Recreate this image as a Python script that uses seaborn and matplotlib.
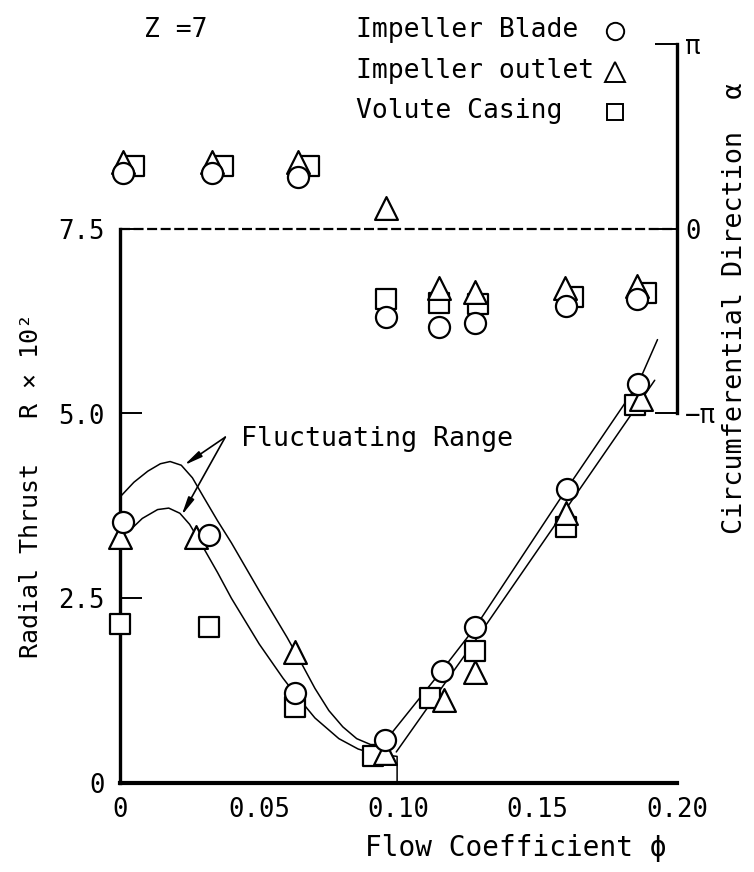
import numpy as np
import pandas as pd
import seaborn as sns
import matplotlib
matplotlib.use("Agg")
import matplotlib.pyplot as plt
from matplotlib.lines import Line2D

# ---------------- data ----------------
# Radial thrust R x 10^2
phi_blade = [0.001, 0.0318, 0.063, 0.0951, 0.1155, 0.1276, 0.1604, 0.186]
R_blade = [3.53, 3.35, 1.22, 0.58, 1.52, 2.11, 3.98, 5.40]
phi_outlet = [0.0, 0.0274, 0.0629, 0.0951, 0.1165, 0.1276, 0.1600, 0.187]
R_outlet = [3.33, 3.33, 1.77, 0.40, 1.12, 1.50, 3.65, 5.20]
phi_volute = [0.0, 0.0318, 0.0629, 0.0908, 0.1112, 0.1273, 0.1600, 0.185]
R_volute = [2.15, 2.11, 1.03, 0.37, 1.15, 1.79, 3.46, 5.12]

# Circumferential direction alpha (in units of pi)
phi_a_blade = [0.001, 0.033, 0.064, 0.0955, 0.1145, 0.1276, 0.160, 0.1855]
alpha_blade = [0.30, 0.30, 0.28, -0.48, -0.53, -0.51, -0.42, -0.38]
phi_a_outlet = [0.001, 0.033, 0.064, 0.0955, 0.1145, 0.1276, 0.1598, 0.1856]
alpha_outlet = [0.36, 0.36, 0.36, 0.11, -0.32, -0.34, -0.32, -0.31]
phi_a_volute = [0.005, 0.037, 0.068, 0.0955, 0.1145, 0.1285, 0.1627, 0.1888]
alpha_volute = [0.34, 0.34, 0.34, -0.38, -0.40, -0.41, -0.37, -0.35]

# Fluctuating range envelopes
phi_outer = [0.0, 0.005, 0.010, 0.0145, 0.018, 0.022, 0.026, 0.030, 0.035, 0.040,
             0.050, 0.060, 0.065, 0.070, 0.075, 0.080, 0.085, 0.090, 0.0935, 0.0955,
             0.1155, 0.1276, 0.1604, 0.186, 0.193]
R_outer = [3.87, 4.07, 4.22, 4.32, 4.35, 4.30, 4.13, 3.87, 3.55, 3.25,
           2.60, 1.97, 1.63, 1.28, 0.98, 0.76, 0.60, 0.52, 0.52, 0.58,
           1.52, 2.11, 3.98, 5.40, 6.00]
phi_inner = [0.003, 0.008, 0.0135, 0.0175, 0.0215, 0.025, 0.0294, 0.035, 0.040,
             0.050, 0.0585, 0.063, 0.070, 0.0786, 0.0855, 0.0907, 0.095, 0.0995, 0.0995]
R_inner = [3.40, 3.58, 3.70, 3.72, 3.65, 3.50, 3.22, 2.85, 2.50,
           1.88, 1.42, 1.20, 0.88, 0.60, 0.46, 0.40, 0.38, 0.36, 0.0]
phi_inner_r = [0.0992, 0.111, 0.1276, 0.160, 0.186, 0.192]
R_inner_r = [0.42, 1.05, 1.93, 3.70, 5.12, 5.45]

x_ticks = [0, 0.05, 0.10, 0.15, 0.20]
x_ticklabels = ["0", "0.05", "0.10", "0.15", "0.20"]
y_ticks = [0, 2.5, 5.0, 7.5]
y_ticklabels = ["0", "2.5", "5.0", "7.5"]
a_ticks = [-1, 0, 1]
a_ticklabels = ["\u2212\u03c0", "0", "\u03c0"]
legend_labels = ["Impeller Blade", "Impeller outlet", "Volute Casing"]
legend_markers = ["o", "^", "s"]

# ---------------- style ----------------
sns.set_theme(style="white")
plt.rcParams['font.family'] = ['DejaVu Sans Mono', 'DejaVu Sans']
plt.rcParams['mathtext.fontset'] = 'dejavusans'
plt.rcParams['text.color'] = 'black'
plt.rcParams['axes.labelcolor'] = 'black'
plt.rcParams['xtick.color'] = 'black'
plt.rcParams['ytick.color'] = 'black'
FS_TICK = 18.5

W, H = 754, 872
fig = plt.figure(figsize=(W / 100, H / 100), dpi=100)
ax = fig.add_axes([120 / W, 1 - 783 / H, 557 / W, (783 - 44) / H])
ax.set_xlim(0, 0.2)
ax.set_ylim(0, 10)
ax.patch.set_alpha(0)

line_kw = dict(color="black", linewidth=1.1, sort=False, estimator=None, legend=False, ax=ax)
sns.lineplot(x=phi_outer, y=R_outer, **line_kw)
sns.lineplot(x=phi_inner, y=R_inner, **line_kw)
sns.lineplot(x=phi_inner_r, y=R_inner_r, **line_kw)

ax.axhline(7.5, color="black", lw=1.6, ls=(0, (4.5, 1.6)), zorder=1)

mk = dict(facecolor="white", edgecolor="black", linewidth=1.6, clip_on=False, legend=False)
S_sq, S_tri, S_circ = 190, 270, 230
sns.scatterplot(x=phi_volute, y=R_volute, marker="s", s=S_sq, zorder=3, ax=ax, **mk)
sns.scatterplot(x=phi_outlet, y=R_outlet, marker="^", s=S_tri, zorder=4, ax=ax, **mk)
sns.scatterplot(x=phi_blade, y=R_blade, marker="o", s=S_circ, zorder=5, ax=ax, **mk)

# angle axis
ax2 = ax.twinx()
ax2.set_ylim(-3, 1)
sns.scatterplot(x=phi_a_volute, y=alpha_volute, marker="s", s=S_sq, zorder=3, ax=ax2, **mk)
sns.scatterplot(x=phi_a_outlet, y=alpha_outlet, marker="^", s=S_tri, zorder=4, ax=ax2, **mk)
sns.scatterplot(x=phi_a_blade, y=alpha_blade, marker="o", s=S_circ, zorder=5, ax=ax2, **mk)

# spines
for a in (ax, ax2):
    for s in a.spines.values():
        s.set_visible(False)
        s.set_color("black")
ax.spines["left"].set_visible(True)
ax.spines["left"].set_bounds(0, 7.5)
ax.spines["left"].set_linewidth(2.4)
ax.spines["bottom"].set_visible(True)
ax.spines["bottom"].set_linewidth(3.0)
ax2.spines["right"].set_visible(True)
ax2.spines["right"].set_bounds(-1, 1)
ax2.spines["right"].set_linewidth(2.4)

ax.set_xticks(x_ticks)
ax.set_xticklabels(x_ticklabels)
ax.set_yticks(y_ticks)
ax.set_yticklabels(y_ticklabels)
ax.tick_params(axis="x", direction="in", length=18, width=1.4, labelsize=FS_TICK, pad=10,
               colors="black")
ax.tick_params(axis="y", direction="in", length=16, width=1.4, labelsize=FS_TICK, pad=11,
               colors="black")
ax.set_xlabel("")
ax.set_ylabel("")
ax2.set_yticks(a_ticks)
ax2.set_yticklabels(a_ticklabels)
ax2.tick_params(axis="y", direction="in", length=16, width=1.4, labelsize=FS_TICK, pad=6,
                colors="black")
ax2.set_ylabel("")

# axis titles
fig.text(516 / W, 1 - 848 / H, "Flow Coefficient \u03d5", ha="center", va="center",
         fontsize=20, color="black")
fig.text(31 / W, 1 - 485 / H, "Radial Thrust   R \u00d7 10\u00b2", ha="center", va="center",
         rotation=90, fontsize=18, color="black")
fig.text(735 / W, 1 - 308 / H, "Circumferential Direction  \u03b1", ha="center", va="center",
         rotation=90, fontsize=19.3, color="black")
fig.text(144 / W, 1 - 30 / H, "Z =7", ha="left", va="center", fontsize=19, color="black")

# annotation
ax.text(0.0433, 4.66, "Fluctuating Range", ha="left", va="center", fontsize=19.2, color="black")
arr = dict(arrowstyle="-|>,head_length=0.9,head_width=0.16", color="black", lw=1.2,
           shrinkA=0, shrinkB=0)
ax.annotate("", xy=(0.023, 4.30), xytext=(0.0378, 4.68), arrowprops=arr)
ax.annotate("", xy=(0.0221, 3.62), xytext=(0.0378, 4.68), arrowprops=arr)

# legend (text left-aligned, symbol column on the right)
row_y = [30, 71, 111]
ms_map = {"o": 12.5, "^": 15, "s": 12}
for lab, m, yy in zip(legend_labels, legend_markers, row_y):
    fig.text(356 / W, 1 - yy / H, lab, ha="left", va="center", fontsize=19, color="black")
    fig.add_artist(Line2D([615 / W], [1 - (yy + 1) / H], marker=m, ls="", mfc="white",
                          mec="black", mew=1.4, ms=ms_map[m], transform=fig.transFigure))

fig.savefig("out.png", dpi=100)
